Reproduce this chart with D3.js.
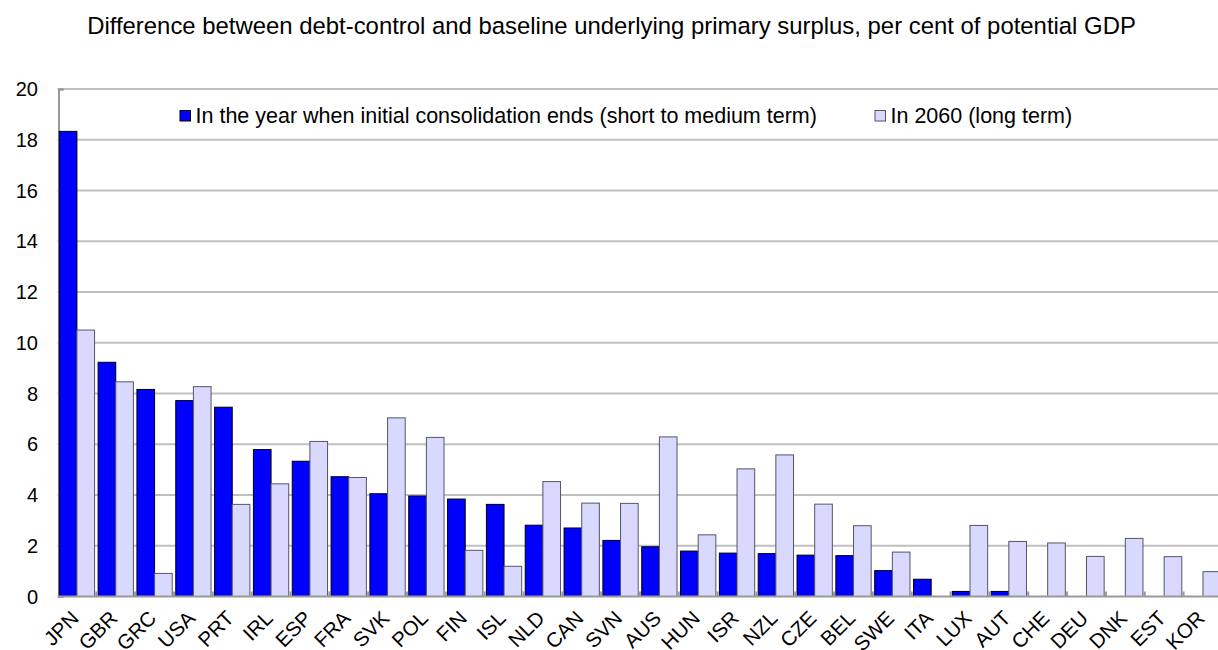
<!DOCTYPE html>
<html><head><meta charset="utf-8">
<script src="https://cdn.jsdelivr.net/npm/d3@7"></script>
<style>body{margin:0;background:#fff;}svg{display:block;font-family:"Liberation Sans",Arial,sans-serif;}</style>
</head><body>
<svg id="c" width="1218" height="650"></svg>
<script>
const categories = ["JPN","GBR","GRC","USA","PRT","IRL","ESP","FRA","SVK","POL","FIN","ISL","NLD","CAN","SVN","AUS","HUN","ISR","NZL","CZE","BEL","SWE","ITA","LUX","AUT","CHE","DEU","DNK","EST","KOR"];
const shortTerm = [18.33,9.23,8.16,7.72,7.46,5.79,5.33,4.72,4.05,3.96,3.84,3.63,2.81,2.70,2.21,1.96,1.79,1.71,1.69,1.63,1.61,1.02,0.68,0.20,0.20,0,0,0,0,0];
const longTerm = [10.5,8.46,0.91,8.27,3.63,4.44,6.11,4.69,7.04,6.27,1.82,1.19,4.53,3.68,3.67,6.29,2.43,5.03,5.58,3.64,2.79,1.75,0,2.80,2.17,2.11,1.58,2.29,1.57,0.98];
const yTicks = [0,2,4,6,8,10,12,14,16,18,20];
const seriesNames = ["In the year when initial consolidation ends (short to medium term)","In 2060 (long term)"];
const title = "Difference between debt-control and baseline underlying primary surplus, per cent of potential GDP";

const svg = d3.select("#c");
const x0 = 57.5, step = 38.83;
const x = d3.scaleBand().domain(categories).range([x0, x0 + step*categories.length]).paddingInner(0).paddingOuter(0);
const y = d3.scaleLinear().domain([0,20]).range([596.5, 89]);
const inner = d3.scaleBand().domain([0,1]).range([0, x.bandwidth()]).paddingInner(0).paddingOuter(0.1);

svg.append("text").attr("x", 611.5).attr("y", 34).attr("text-anchor","middle")
  .attr("font-size", 23.9).attr("fill","#000").text(title);

// gridlines
svg.append("g").selectAll("line").data(yTicks.filter(d=>d>0)).join("line")
  .attr("x1", x0).attr("x2", 1218).attr("y1", d=>y(d)).attr("y2", d=>y(d))
  .attr("stroke","#bfbfbf").attr("stroke-width",2);

// y axis
const yAxis = svg.append("g").attr("transform",`translate(${x0+1},0)`)
  .call(d3.axisRight(y).tickValues(yTicks).tickSize(5).tickFormat(""));
yAxis.select(".domain").attr("stroke","#999").attr("stroke-width",2);
yAxis.selectAll(".tick line").attr("stroke","#999").attr("stroke-width",2);
svg.append("g").selectAll("text").data(yTicks).join("text")
  .attr("x", 38).attr("y", d=>y(d)).attr("dy","0.36em").attr("text-anchor","end")
  .attr("font-size",20).attr("fill","#000").text(d=>d);

// bars
const sets = [shortTerm, longTerm];
const fills = ["#0000ff","#d9d9ff"];
const strokes = ["#000","#555566"];
sets.forEach((vals, si) => {
  svg.append("g").selectAll("rect").data(categories.map((c,i)=>({c, v: vals[i]})).filter(d=>d.v>0)).join("rect")
    .attr("x", d => x(d.c) + inner(si))
    .attr("width", inner.bandwidth())
    .attr("y", d => y(d.v))
    .attr("height", d => y(0) - y(d.v))
    .attr("fill", fills[si]).attr("stroke", strokes[si]).attr("stroke-width",1);
});

// x axis
const xAxis = svg.append("g").attr("transform",`translate(0,${y(0)})`);
xAxis.append("line").attr("x1", x0).attr("x2", 1218).attr("y1",0).attr("y2",0).attr("stroke","#999").attr("stroke-width",2);
xAxis.selectAll("line.tk").data(categories.slice(1)).join("line").attr("class","tk")
  .attr("x1", d=>x(d)).attr("x2", d=>x(d)).attr("y1",0).attr("y2",-5)
  .attr("stroke","#999").attr("stroke-width",2);
xAxis.selectAll("text").data(categories).join("text")
  .attr("transform", d=>`translate(${x(d)+x.bandwidth()/2+3},${23}) rotate(-45)`)
  .attr("text-anchor","end").attr("font-size",20.5).attr("fill","#000").text(d=>d);

// legend
const legItems = [{x:180, i:0},{x:875, i:1}];
legItems.forEach(l => {
  svg.append("rect").attr("x", l.x).attr("y", 110.5).attr("width", 10.5).attr("height", 10.5)
    .attr("fill", fills[l.i]).attr("stroke", strokes[l.i]).attr("stroke-width",1);
  svg.append("text").attr("x", l.x+15.5).attr("y", 123).attr("font-size",21.5).attr("fill","#000").text(seriesNames[l.i]);
});
</script>
</body></html>
